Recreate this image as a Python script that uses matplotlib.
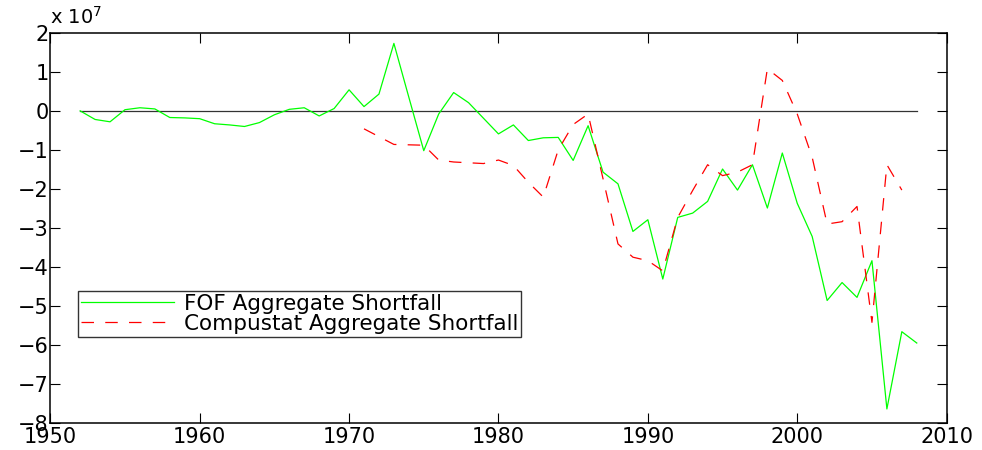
import matplotlib.pyplot as plt

plt.switch_backend('Agg')

# values in units of 1e7
fof_years = list(range(1952, 2009))
fof_values = [0.00, -0.22, -0.28, 0.03, 0.08, 0.05, -0.17, -0.18, -0.20, -0.33,
              -0.36, -0.40, -0.30, -0.10, 0.04, 0.08, -0.13, 0.06, 0.54, 0.11,
              0.43, 1.73, 0.35, -1.02, -0.08, 0.47, 0.21, -0.19, -0.59, -0.36,
              -0.76, -0.69, -0.68, -1.27, -0.38, -1.57, -1.87, -3.09, -2.79, -4.31,
              -2.73, -2.62, -2.32, -1.49, -2.03, -1.38, -2.49, -1.08, -2.37, -3.22,
              -4.86, -4.40, -4.78, -3.84, -7.64, -5.66, -5.95]

comp_years = list(range(1971, 2008))
comp_values = [-0.46, -0.66, -0.86, -0.87, -0.88, -1.26, -1.31, -1.33, -1.35, -1.26,
               -1.40, -1.83, -2.21, -1.00, -0.35, -0.08, -1.74, -3.41, -3.75, -3.84,
               -4.10, -2.73, -2.04, -1.38, -1.66, -1.57, -1.38, 1.08, 0.78, -0.08,
               -1.19, -2.90, -2.84, -2.45, -5.42, -1.38, -2.03]

x_ticks = [1950, 1960, 1970, 1980, 1990, 2000, 2010]
y_ticks = [-8, -7, -6, -5, -4, -3, -2, -1, 0, 1, 2]

plt.rcParams['font.family'] = ['DejaVu Sans']

fig = plt.figure(figsize=(9.82, 4.5), dpi=100)
ax = fig.add_axes([0.0512, 0.06, 0.9128, 0.867])

ax.plot([fof_years[0], fof_years[-1]], [0, 0], color='#333333', linewidth=0.9)
ax.plot(fof_years, fof_values, color='#00ff00', linewidth=0.9,
        label='FOF Aggregate Shortfall')
ax.plot(comp_years, comp_values, color='#ff0000', linewidth=0.9,
        linestyle=(0, (10, 9)), label='Compustat Aggregate Shortfall')

ax.set_xlim(1950, 2010)
ax.set_ylim(-8, 2)
ax.set_xticks(x_ticks)
ax.set_yticks(y_ticks)
ax.tick_params(direction='in', length=7, width=0.8, labelsize=15,
               top=True, right=True)
ax.tick_params(axis='x', pad=3)
ax.tick_params(axis='y', pad=1)
for spine in ax.spines.values():
    spine.set_linewidth(1.1)

ax.text(0.0, 1.012, r'x 10$^7$', transform=ax.transAxes, fontsize=14,
        ha='left', va='bottom')

leg = ax.legend(loc='lower left', bbox_to_anchor=(0.031, 0.22), fontsize=15.5,
                frameon=True, fancybox=False, edgecolor='black',
                borderpad=0.15, handlelength=4.3, labelspacing=0.0,
                handletextpad=0.45, borderaxespad=0)
leg.get_frame().set_linewidth(1.0)

plt.savefig('out.png', dpi=100)
plt.close(fig)
